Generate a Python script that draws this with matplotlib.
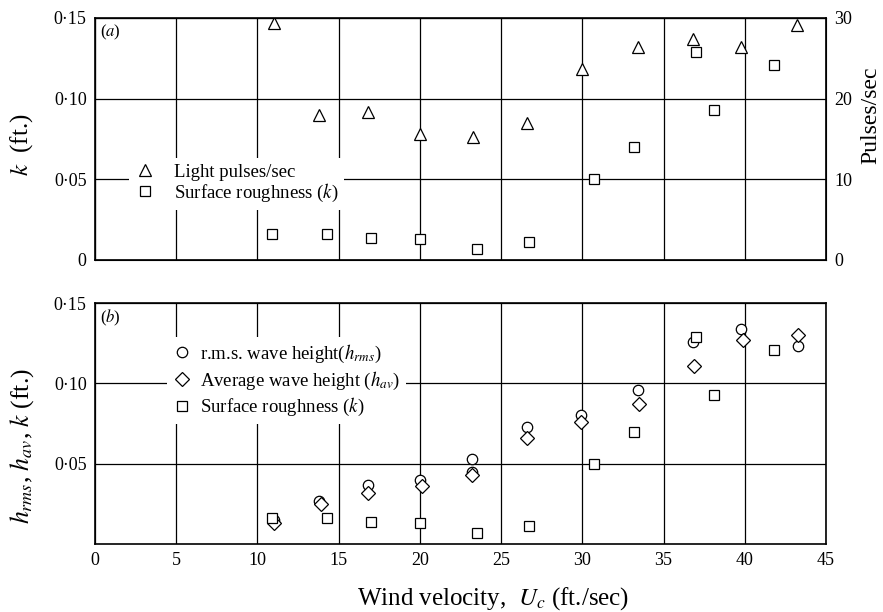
import numpy as np
import matplotlib
matplotlib.use("Agg")
import matplotlib.pyplot as plt
from matplotlib.ticker import FixedLocator, FuncFormatter

plt.rcParams['font.family'] = ['Liberation Serif', 'DejaVu Serif']
plt.rcParams['mathtext.fontset'] = 'stix'

# (a) light pulses per second (right axis)
u_pulse = [11.0, 13.8, 16.8, 20.0, 23.3, 26.6, 30.0, 33.4, 36.8, 39.8, 43.2]
pulses = [29.4, 18.0, 18.3, 15.6, 15.3, 17.0, 23.7, 26.4, 27.4, 26.4, 29.1]

# surface roughness k (both panels)
u_k = [10.9, 14.3, 17.0, 20.0, 23.5, 26.7, 30.7, 33.2, 37.0, 38.1, 41.8]
k = [0.016, 0.016, 0.0137, 0.0133, 0.0068, 0.011, 0.050, 0.070, 0.129, 0.093, 0.121]

# (b) r.m.s. and average wave height
u_rms = [11.0, 13.8, 16.8, 20.0, 23.2, 23.2, 26.6, 29.9, 33.4, 36.8, 39.8, 43.3]
h_rms = [0.015, 0.027, 0.037, 0.040, 0.053, 0.045, 0.073, 0.080, 0.096, 0.126, 0.134, 0.123]
u_av = [11.0, 13.9, 16.8, 20.1, 23.2, 26.6, 29.9, 33.5, 36.9, 39.9, 43.3]
h_av = [0.013, 0.025, 0.032, 0.036, 0.043, 0.066, 0.076, 0.087, 0.111, 0.127, 0.130]

mk = dict(linestyle='none', markerfacecolor='white', markeredgecolor='black',
          markeredgewidth=0.9, zorder=3)
dotfmt = FuncFormatter(lambda v, p: '0' if abs(v) < 1e-9 else ('%.2f' % v).replace('.', '\u00b7'))

fig = plt.figure(figsize=(8.83, 6.12), dpi=100)
ax1 = fig.add_axes([0.1076, 0.5752, 0.8278, 0.3954])
ax2 = fig.add_axes([0.1076, 0.1111, 0.8278, 0.3938])

for ax in (ax1, ax2):
    ax.set_xlim(0, 45)
    ax.set_ylim(0, 0.15)
    ax.xaxis.set_major_locator(FixedLocator(np.arange(0, 46, 5)))
    ax.yaxis.set_major_locator(FixedLocator([0, 0.05, 0.10, 0.15]))
    ax.yaxis.set_major_formatter(dotfmt)
    ax.grid(True, color='black', linewidth=0.9)
    ax.set_axisbelow(True)
    ax.tick_params(length=0, labelsize=13, pad=6)
    for s in ax.spines.values():
        s.set_linewidth(1.2)

# panel (a)
ax1.tick_params(labelbottom=False)
ax1r = ax1.twinx()
ax1r.set_ylim(0, 30)
ax1r.yaxis.set_major_locator(FixedLocator([0, 10, 20, 30]))
ax1r.tick_params(length=0, labelsize=13, pad=6)
h1, = ax1r.plot(u_pulse, pulses, marker='^', markersize=8, label='Light pulses/sec', **mk)
h2, = ax1.plot(u_k, k, marker='s', markersize=7, label='Surface roughness ($k$)', **mk)
ax1.text(0.3, 0.147, '($a$)', fontsize=12, va='top', ha='left')
ax1r.legend(handles=[h1, h2], loc='upper left', bbox_to_anchor=(0.033, 0.459),
            fontsize=13.5, frameon=True, framealpha=1, edgecolor='none',
            borderpad=0.3, handletextpad=0.9, labelspacing=0.05,
            handlelength=1.2)

# panel (b)
ax2.yaxis.set_major_locator(FixedLocator([0.05, 0.10, 0.15]))
ax2.plot(u_rms, h_rms, marker='o', markersize=7.5, label='r.m.s. wave height($h_{rms}$)', **mk)
ax2.plot(u_av, h_av, marker='D', markersize=7, label='Average wave height ($h_{av}$)', **mk)
ax2.plot(u_k, k, marker='s', markersize=7, label='Surface roughness ($k$)', **mk)
ax2.text(0.3, 0.147, '($b$)', fontsize=12, va='top', ha='left')
ax2.legend(loc='upper left', bbox_to_anchor=(0.0857, 0.898), fontsize=13.5,
           frameon=True, framealpha=1, edgecolor='none', borderpad=0.3,
           handletextpad=0.46, labelspacing=0.25, handlelength=1.0)

# axis titles
fig.text(0.025, 0.763, '$k$  (ft.)', rotation=90, ha='center', va='center', fontsize=18)
fig.text(0.025, 0.271, '$h_{rms}$, $h_{av}$, $k$ (ft.)', rotation=90, ha='center',
         va='center', fontsize=18.5)
fig.text(0.986, 0.812, 'Pulses/sec', rotation=90, ha='center', va='center', fontsize=17)
fig.text(0.559, 0.022, 'Wind velocity,  $U_c$ (ft./sec)', ha='center', va='center',
         fontsize=18)

fig.savefig('out.png', dpi=100)
